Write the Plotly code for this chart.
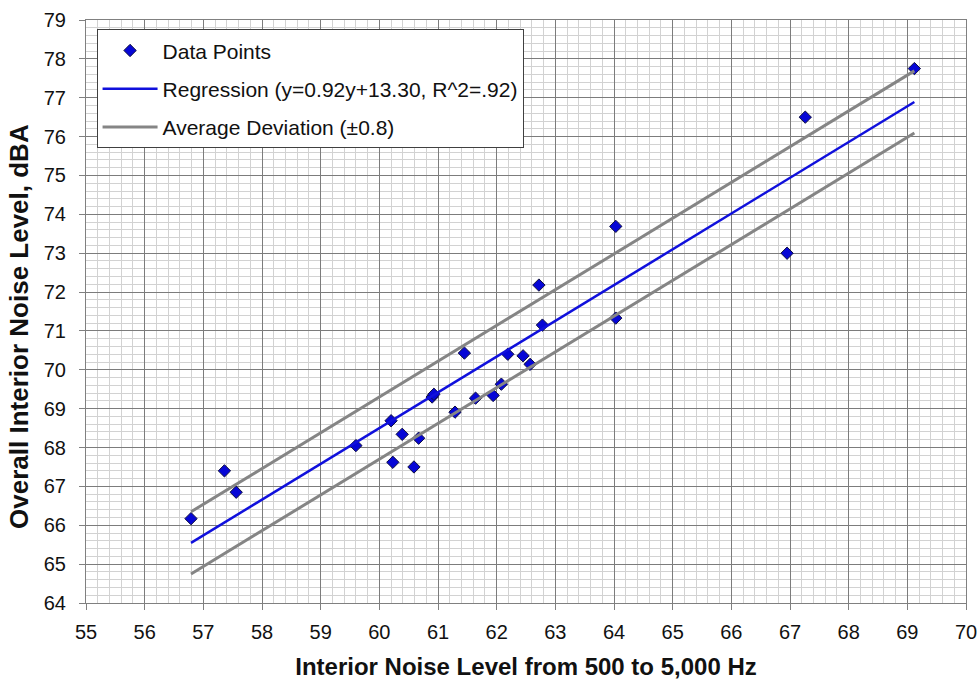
import plotly.graph_objects as go

# Data
x_data = [56.79, 57.36, 57.56, 59.60, 60.20, 60.23, 60.39, 60.59, 60.67, 60.90, 60.93,
          61.29, 61.45, 61.64, 61.94, 62.08, 62.19, 62.45, 62.57, 62.72, 62.78,
          64.03, 64.03, 66.95, 67.26, 69.12]
y_data = [66.17, 67.40, 66.85, 68.05, 68.69, 67.62, 68.34, 67.50, 68.24, 69.30, 69.37,
          68.91, 70.43, 69.27, 69.34, 69.63, 70.40, 70.36, 70.14, 72.18, 71.15,
          73.69, 71.33, 73.00, 76.50, 77.75]

slope = 0.92
intercept = 13.30
avg_dev = 0.8

x_ticks = list(range(55, 71))
y_ticks = list(range(64, 80))

x_line = [min(x_data), max(x_data)]
y_reg = [slope * v + intercept for v in x_line]
y_up = [v + avg_dev for v in y_reg]
y_lo = [v - avg_dev for v in y_reg]

FONT = "Arial, Liberation Sans, sans-serif"

fig = go.Figure()
fig.add_trace(go.Scatter(
    x=x_data, y=y_data, mode="markers", name="Data Points",
    marker=dict(symbol="diamond", size=9.5, color="#0606d6",
                line=dict(color="#101040", width=1)),
    legendgroup="a"))
fig.add_trace(go.Scatter(
    x=x_line, y=y_reg, mode="lines",
    name="Regression (y=0.92y+13.30, R^2=.92)",
    line=dict(color="#1010dc", width=2.5), legendgroup="b"))
fig.add_trace(go.Scatter(
    x=x_line, y=y_up, mode="lines", name="Average Deviation (±0.8)",
    line=dict(color="#858585", width=3), legendgroup="c"))
fig.add_trace(go.Scatter(
    x=x_line, y=y_lo, mode="lines", name="Average Deviation (±0.8)",
    line=dict(color="#858585", width=3), legendgroup="c", showlegend=False))

axis_common = dict(
    showgrid=True, gridcolor="#7c7c7c", gridwidth=1,
    minor=dict(dtick=0.2, showgrid=True, gridcolor="#d2d2d2", gridwidth=1),
    showline=True, linecolor="#808080", linewidth=1, mirror=True,
    ticks="outside", ticklen=6, tickcolor="#808080",
    zeroline=False, automargin=False, ticklabeloverflow="allow",
    tickfont=dict(family=FONT, size=20, color="#111111"),
)

fig.update_layout(
    width=977, height=680,
    margin=dict(l=86, r=11, t=20, b=77),
    plot_bgcolor="white", paper_bgcolor="white",
    showlegend=True,
    legend=dict(
        x=0.012, y=0.984, xanchor="left", yanchor="top",
        bgcolor="white", bordercolor="#404040", borderwidth=1,
        font=dict(family=FONT, size=21, color="#111111"),
        tracegroupgap=8, itemwidth=55,
    ),
    xaxis=dict(range=[55, 70], tickvals=x_ticks, ticktext=[str(v) for v in x_ticks],
               ticklabelstandoff=5,
               title=dict(text="<b>Interior Noise Level from 500 to 5,000 Hz</b>",
                          font=dict(family=FONT, size=24, color="#111111"), standoff=24),
               **axis_common),
    yaxis=dict(range=[64, 79], tickvals=y_ticks, ticktext=[str(v) for v in y_ticks],
               ticklabelstandoff=9,
               **axis_common),
    annotations=[dict(
        text="<b>Overall Interior Noise Level, dBA</b>",
        xref="paper", yref="paper", x=-0.077, y=0.474,
        xanchor="center", yanchor="middle", textangle=-90, showarrow=False,
        font=dict(family=FONT, size=26, color="#111111"))],
)

fig.write_html("out.html", config={"displayModeBar": False},
               post_script="document.body.style.margin='0px';")
